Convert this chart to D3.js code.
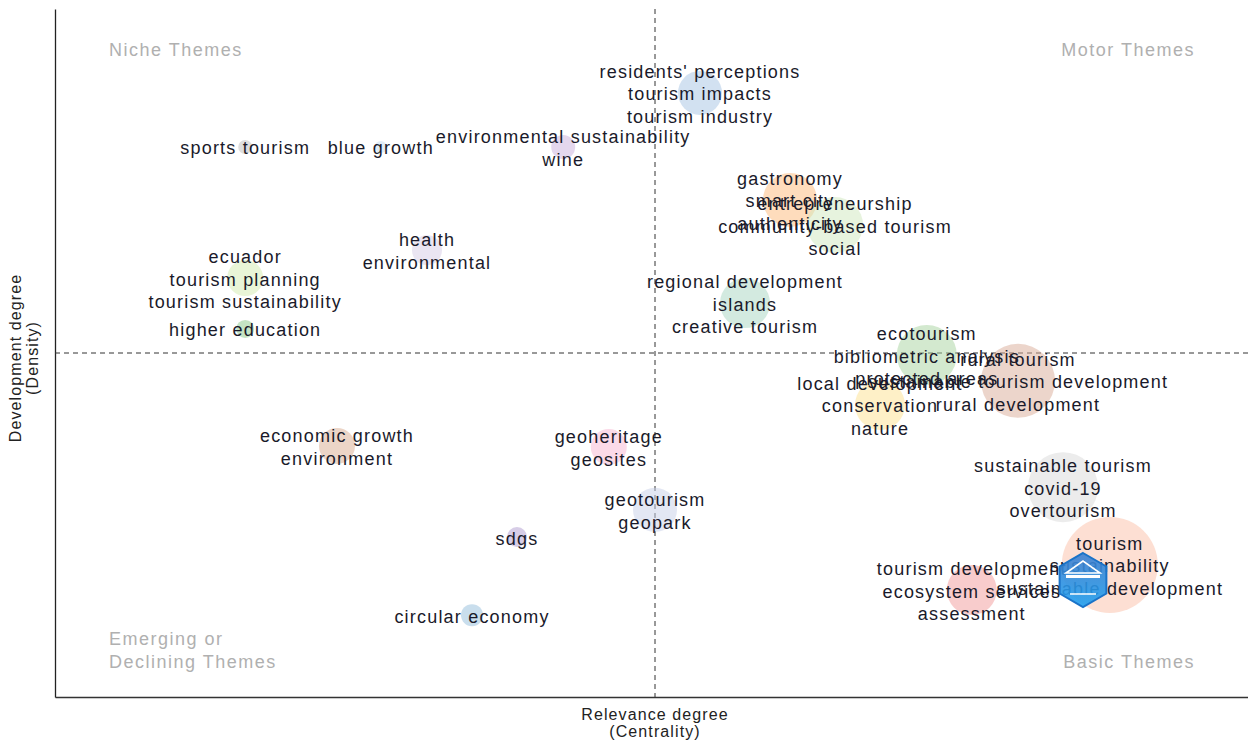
<!DOCTYPE html>
<html>
<head>
<meta charset="utf-8">
<script src="https://cdn.jsdelivr.net/npm/d3@7"></script>
<style>
  body { margin: 0; background: #fff; }
  text { font-family: "Liberation Sans", Arial, sans-serif; }
</style>
</head>
<body>
<svg id="chart" width="1248" height="740"></svg>
<script>
// Thematic map data (centrality / density, arbitrary units, means at 0)
var labels = [
  ["residents' perceptions", "tourism impacts", "tourism industry"],
  ["environmental sustainability", "wine"],
  ["sports tourism"],
  ["blue growth"],
  ["gastronomy", "smart city", "authenticity"],
  ["entrepreneurship", "community-based tourism", "social"],
  ["health", "environmental"],
  ["ecuador", "tourism planning", "tourism sustainability"],
  ["higher education"],
  ["regional development", "islands", "creative tourism"],
  ["ecotourism", "bibliometric analysis", "protected areas"],
  ["rural tourism", "sustainable tourism development", "rural development"],
  ["local development", "conservation", "nature"],
  ["economic growth", "environment"],
  ["geoheritage", "geosites"],
  ["geotourism", "geopark"],
  ["sdgs"],
  ["circular economy"],
  ["sustainable tourism", "covid-19", "overtourism"],
  ["tourism development", "ecosystem services", "assessment"],
  ["tourism", "sustainability", "sustainable development"]
];
var centrality = [0.075, -0.153, -0.683, -0.457, 0.225, 0.30, -0.380, -0.683, -0.683, 0.150, 0.453, 0.605, 0.375, -0.530, -0.077, 0.0, -0.230, -0.305, 0.680, 0.528, 0.758];
var density = [0.756, 0.599, 0.599, 0.599, 0.445, 0.372, 0.299, 0.218, 0.070, 0.145, -0.006, -0.081, -0.151, -0.270, -0.273, -0.456, -0.535, -0.762, -0.390, -0.689, -0.616];
var sizes = [22, 12, 7, 6, 27, 28, 15, 18, 9, 25, 30, 37, 25, 18, 18, 22, 10, 11, 35, 25, 48];
var colors = ["#a6c4e4", "#c9b0dc", "#bdbdbd", "#c6dbef", "#fdb97a", "#cfe8bd", "#d6cce6", "#d4ebb0", "#8cc98a",
              "#a7d6c2", "#a8d4a0", "#d9ab98", "#fde28f", "#d9ab90", "#f7b6d2", "#c7cfe8", "#b09cd0", "#94bedc",
              "#d9d9d9", "#f29a9a", "#fbbfa8"];

var quadrants = [
  {lines: ["Niche Themes"], side: "left", top: true},
  {lines: ["Motor Themes"], side: "right", top: true},
  {lines: ["Emerging or", "Declining Themes"], side: "left", top: false},
  {lines: ["Basic Themes"], side: "right", top: false}
];

var svg = d3.select("#chart");
var x = d3.scaleLinear().domain([-1, 1]).range([55, 1255]);
var y = d3.scaleLinear().domain([-1, 1]).range([697, 9]);
var r = d3.scaleLinear().domain([0, 48]).range([0, 48]);

// axes (no tick marks, just the frame lines)
svg.append("g")
    .attr("transform", "translate(0,697)")
    .call(d3.axisBottom(x).tickValues([]).tickSizeOuter(0))
    .call(function(g) { g.select(".domain").attr("stroke", "#333").attr("stroke-width", 1.3); });
svg.append("g")
    .attr("transform", "translate(55,0)")
    .call(d3.axisLeft(y).tickValues([]).tickSizeOuter(0))
    .call(function(g) { g.select(".domain").attr("stroke", "#222").attr("stroke-width", 1.3); });

// mean lines
svg.append("line")
    .attr("x1", x(0)).attr("x2", x(0)).attr("y1", y(1)).attr("y2", y(-1))
    .attr("stroke", "#333").attr("stroke-dasharray", "5,4");
svg.append("line")
    .attr("x1", x(-1)).attr("x2", x(1)).attr("y1", y(0)).attr("y2", y(0))
    .attr("stroke", "#333").attr("stroke-dasharray", "5,4");

// quadrant names
quadrants.forEach(function(q) {
  var t = svg.append("text")
      .attr("fill", "#b0b0b0")
      .style("font-size", "18px")
      .style("letter-spacing", "1.5px")
      .attr("text-anchor", q.side == "left" ? "start" : "end");
  q.lines.forEach(function(l, i) {
    var yy = q.top ? 56 : 668 - (q.lines.length - 1 - i) * 23;
    t.append("tspan").attr("x", q.side == "left" ? 109 : 1195).attr("y", yy).text(l);
  });
});

// bubbles
var clusters = labels.map(function(l, i) {
  return {labels: l, cx: centrality[i], cy: density[i], size: sizes[i], color: colors[i]};
});

svg.append("g").selectAll("circle")
    .data(clusters)
    .enter()
    .append("circle")
    .attr("cx", function(d) { return x(d.cx); })
    .attr("cy", function(d) { return y(d.cy); })
    .attr("r", function(d) { return r(d.size); })
    .attr("fill", function(d) { return d.color; })
    .attr("fill-opacity", 0.5);

// labels
var lab = svg.append("g").selectAll("text")
    .data(clusters)
    .enter()
    .append("text")
    .attr("text-anchor", "middle")
    .attr("fill", "#1a1a2a")
    .style("font-size", "18px")
    .style("letter-spacing", "1.2px");
lab.each(function(d) {
  var n = d.labels.length;
  var t = d3.select(this);
  d.labels.forEach(function(l, i) {
    t.append("tspan")
        .attr("x", x(d.cx))
        .attr("y", y(d.cy) + (i - (n - 1) / 2) * 22.7 + 7.5)
        .text(l);
  });
});

// bibliometrix logo (hexagon badge)
var defs = svg.append("defs");
var grad = defs.append("linearGradient").attr("id", "lg").attr("x1", 0).attr("y1", 0).attr("x2", 0).attr("y2", 1);
grad.append("stop").attr("offset", "0%").attr("stop-color", "#3f7fd0");
grad.append("stop").attr("offset", "100%").attr("stop-color", "#1ea0f0");
var lx = 1083, ly = 580, lr = 27;
var hex = d3.range(6).map(function(k) {
  var a = Math.PI / 3 * k - Math.PI / 2;
  return [lx + lr * Math.cos(a), ly + lr * Math.sin(a)];
});
var logo = svg.append("g");
logo.append("path").attr("d", d3.line()(hex) + "Z").attr("fill", "url(#lg)").attr("fill-opacity", 0.9)
    .attr("stroke", "#1a73c8").attr("stroke-width", 2);
logo.append("path").attr("d", "M" + (lx - 17) + "," + (ly - 7) + " L" + lx + "," + (ly - 19) + " L" + (lx + 17) + "," + (ly - 7) + " Z")
    .attr("fill", "none").attr("stroke", "#fff").attr("stroke-width", 1.6);
logo.append("rect").attr("x", lx - 17).attr("y", ly - 5).attr("width", 34).attr("height", 3).attr("fill", "#fff");
logo.append("path").attr("d", "M" + (lx - 13) + "," + (ly + 14) + " L" + (lx + 13) + "," + (ly + 14))
    .attr("stroke", "#fff").attr("stroke-width", 1.5);

// axis titles
svg.append("text").attr("x", 655).attr("y", 720).attr("text-anchor", "middle")
    .style("font-size", "16px").style("letter-spacing", "1.1px").attr("fill", "#222").text("Relevance degree");
svg.append("text").attr("x", 655).attr("y", 737).attr("text-anchor", "middle")
    .style("font-size", "16px").style("letter-spacing", "1.1px").attr("fill", "#222").text("(Centrality)");
svg.append("text").attr("transform", "translate(21,358) rotate(-90)").attr("text-anchor", "middle")
    .style("font-size", "16px").style("letter-spacing", "1.1px").attr("fill", "#222").text("Development degree");
svg.append("text").attr("transform", "translate(38,358) rotate(-90)").attr("text-anchor", "middle")
    .style("font-size", "16px").style("letter-spacing", "1.1px").attr("fill", "#222").text("(Density)");
</script>
</body>
</html>
